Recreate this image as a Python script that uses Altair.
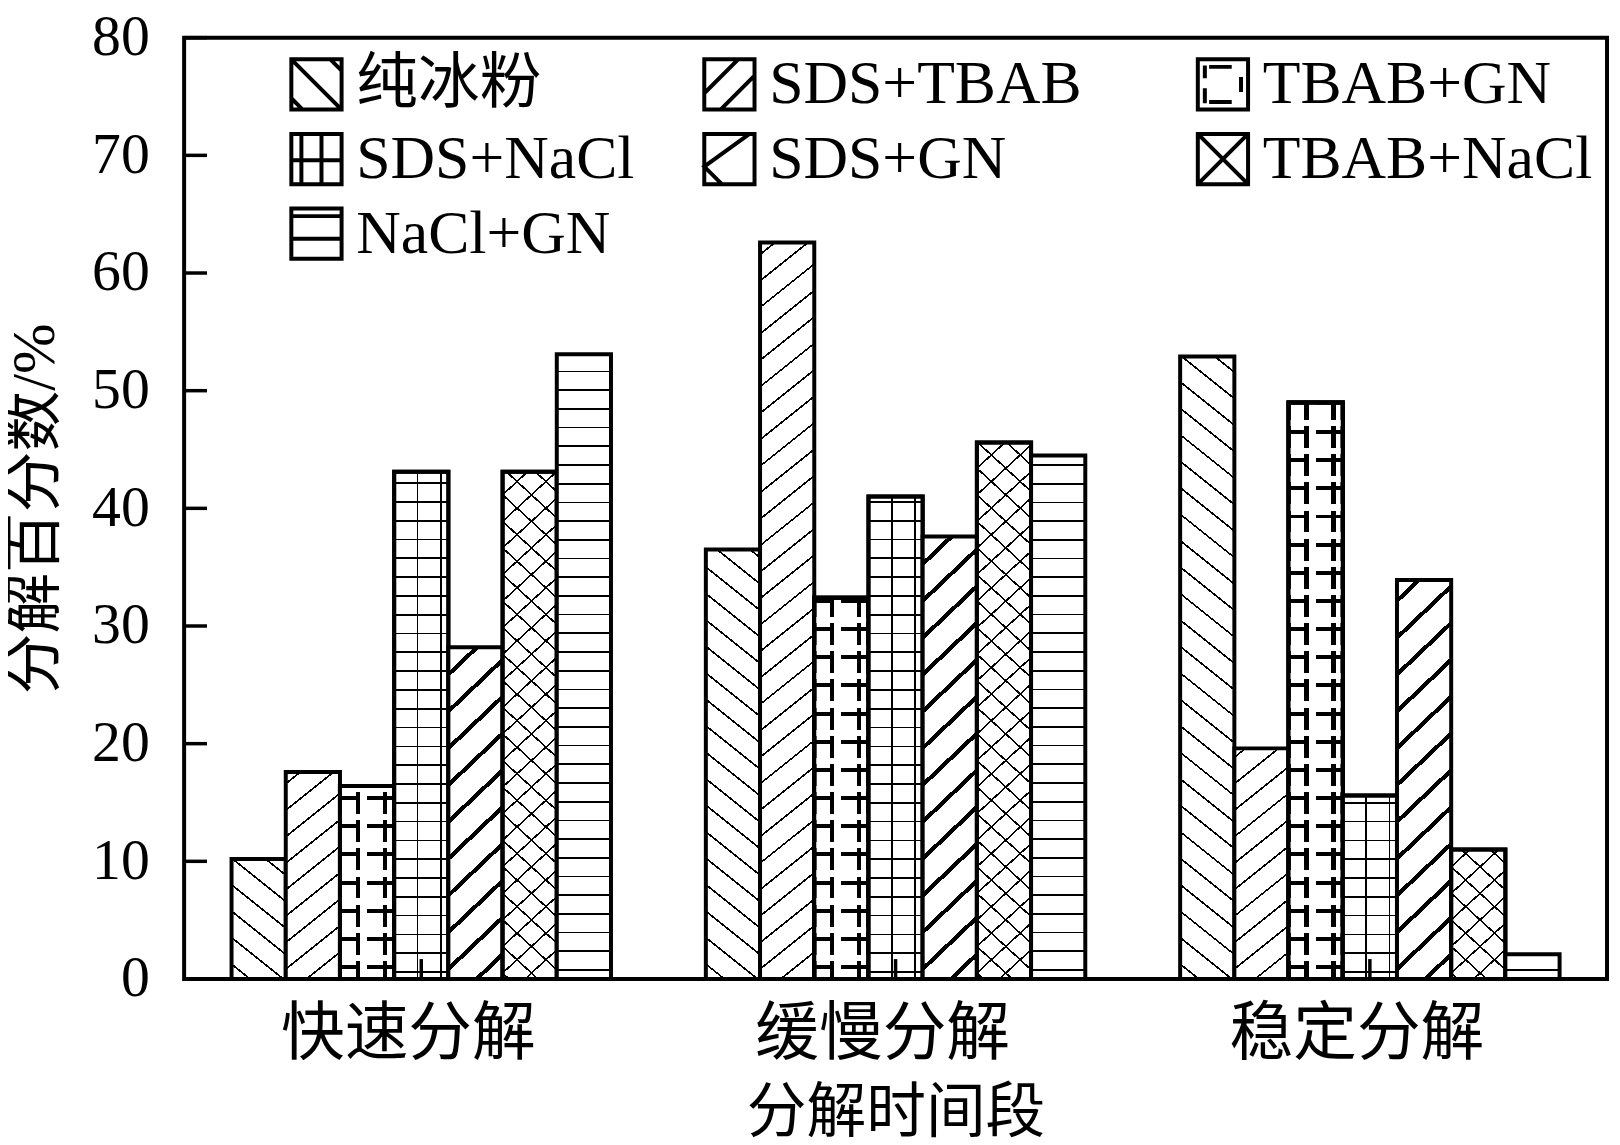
import math
import altair as alt
import pandas as pd

# ---------------- data ----------------
groups = ['快速分解', '缓慢分解', '稳定分解']
series = ['纯冰粉', 'SDS+TBAB', 'TBAB+GN', 'SDS+NaCl', 'SDS+GN', 'TBAB+NaCl', 'NaCl+GN']
values_fast = [10.2, 17.6, 16.4, 43.1, 28.2, 43.1, 53.1]
values_slow = [36.5, 62.6, 32.4, 41.0, 37.6, 45.6, 44.5]
values_stable = [52.9, 19.6, 49.0, 15.6, 33.9, 11.0, 2.1]
y_tick_values = [0, 10, 20, 30, 40, 50, 60, 70, 80]

rows = []
for g, vals in zip(groups, [values_fast, values_slow, values_stable]):
    for s, v in zip(series, vals):
        rows.append({'group': g, 'series': s, 'value': v})
df = pd.DataFrame(rows)

# ---------------- layout ----------------
W, H, YMAX = 1430, 946, 80
P_IN, P_OUT = 0.2, 0.1
STEP = W / (len(groups) - P_IN + 2 * P_OUT)
BAR_W = STEP * (1 - P_IN) / len(series)
FONT = "Liberation Serif, 'Noto Sans CJK SC', serif"
BLACK, WHITE, CLEAR = 'black', 'white', 'rgba(0,0,0,0)'


# ---------------- hatch patterns as striped gradients ----------------
def _r(x):
    return round(x, 6)


def stops_from(L, ivs, fg, bg):
    merged = []
    for a, b in sorted(ivs):
        a, b = max(0.0, a), min(L, b)
        if b <= a:
            continue
        if merged and a <= merged[-1][1]:
            merged[-1][1] = max(merged[-1][1], b)
        else:
            merged.append([a, b])
    st = [{'offset': 0, 'color': bg}]
    for a, b in merged:
        st += [{'offset': _r(a / L), 'color': bg}, {'offset': _r(a / L), 'color': fg},
               {'offset': _r(b / L), 'color': fg}, {'offset': _r(b / L), 'color': bg}]
    st.append({'offset': 1, 'color': bg})
    return st


def z_series(phase, p, lo, hi):
    out, k = [], math.floor((lo - phase) / p)
    while True:
        z = phase + k * p
        if z > hi:
            break
        if z >= lo:
            out.append(z)
        k += 1
    return out


def g_rows(w, h, ivs_top, fg, bg):
    return {'gradient': 'linear', 'x1': 0, 'y1': 0, 'x2': 0, 'y2': 1,
            'stops': stops_from(h, ivs_top, fg, bg)}


def g_cols(w, h, ivs_left, fg, bg):
    return {'gradient': 'linear', 'x1': 0, 'y1': 0, 'x2': 1, 'y2': 0,
            'stops': stops_from(w, ivs_left, fg, bg)}


def g_back(w, h, m, p, phase, lw, fg, bg):
    L = m * w + h
    k = L / (m * m * w * w + h * h)
    t = lw * math.sqrt(1 + m * m)
    zs = z_series(phase, p, -t, L + t)
    return {'gradient': 'linear', 'x1': 0, 'y1': 1, 'x2': _r(k * m * w), 'y2': _r(1 - k * h),
            'stops': stops_from(L, [(z - t / 2, z + t / 2) for z in zs], fg, bg)}


def g_fwd(w, h, m, p, phase, lw, fg, bg):
    L = m * w + h
    k = L / (m * m * w * w + h * h)
    t = lw * math.sqrt(1 + m * m)
    zs = z_series(phase, p, h - L - t, h + t)
    ss = [h - z for z in zs]
    return {'gradient': 'linear', 'x1': 0, 'y1': 0, 'x2': _r(k * m * w), 'y2': _r(k * h),
            'stops': stops_from(L, [(s - t / 2, s + t / 2) for s in ss], fg, bg)}


def hlines(h, zs, lw):
    return [(h - z - lw / 2, h - z + lw / 2) for z in zs]


def pat_pure(w, h):
    return [g_back(w, h, 0.8, 26.6, 15, 1.7, BLACK, WHITE)]


def pat_sds_tbab(w, h):
    return [g_fwd(w, h, 0.8, 26.6, 10, 1.7, BLACK, WHITE)]


def pat_tbab_gn(w, h):
    P = 28.3
    rz = z_series(12, P, 3, h - 3)
    a = g_rows(w, h, hlines(h, rz, 4.0), BLACK, WHITE)
    b = g_cols(w, h, [(0.37 * w, 0.5 * w)], WHITE, CLEAR)
    c = g_cols(w, h, [(0.29 * w, 0.37 * w), (0.79 * w, 0.87 * w)], BLACK, CLEAR)
    bz = z_series(12, P, -P, h + P)
    d = g_rows(w, h, [(h - z + 16, h - z + 22.3) for z in bz], WHITE, CLEAR)
    return [a, b, c, d]


def pat_sds_nacl(w, h):
    a = g_rows(w, h, hlines(h, z_series(7, 18.9, 2, h - 2), 1.7), BLACK, WHITE)
    b = g_cols(w, h, [(c - 0.85, c + 0.85) for c in (23.5, 47.0)], BLACK, CLEAR)
    return [a, b]


def pat_sds_gn(w, h):
    return [g_fwd(w, h, 0.95, 37, 10, 4.2, BLACK, WHITE)]


def pat_tbab_nacl(w, h):
    return [g_back(w, h, 0.92, 26.7, 6, 1.6, BLACK, WHITE),
            g_fwd(w, h, 0.92, 26.7, 6, 1.6, BLACK, CLEAR)]


def pat_nacl_gn(w, h):
    return [g_rows(w, h, hlines(h, z_series(9, 18.8, 2, h - 2), 1.7), BLACK, WHITE)]


PATTERNS = {'纯冰粉': pat_pure, 'SDS+TBAB': pat_sds_tbab, 'TBAB+GN': pat_tbab_gn,
            'SDS+NaCl': pat_sds_nacl, 'SDS+GN': pat_sds_gn, 'TBAB+NaCl': pat_tbab_nacl,
            'NaCl+GN': pat_nacl_gn}

SQ = 'M-1,-1H1V1H-1Z'
LEGEND_PATHS = {
    '纯冰粉': SQ + 'M-1,-1L1,1M-1,0.55L-0.55,1M0.55,-1L1,-0.55',
    'SDS+TBAB': SQ + 'M-1,0.35L0.35,-1M-0.35,1L1,-0.35',
    'TBAB+GN': SQ + 'M-0.55,-0.7H0.35M-0.72,-0.75V-0.25M-0.72,0.15V0.75M-0.55,0.7H0.35M0.72,-0.3V0.3',
    'SDS+NaCl': SQ + 'M-0.6,-1V1M0.2,-1V1M-1,0.05H1',
    'SDS+GN': SQ + 'M0.8,-1L-1,0.3L-0.3,1',
    'TBAB+NaCl': SQ + 'M-1,-1L1,1M1,-1L-1,1',
    'NaCl+GN': SQ + 'M-1,-0.7H1M-1,0.2H1',
}

# ---------------- encodings ----------------
x_axis = alt.Axis(title='分解时间段', labelAngle=0, ticks=False, tickSize=0, domain=False,
                  labelFontSize=64, labelPadding=24, labelOffset=-13, labelLimit=1000,
                  titleFontSize=60, titlePadding=18)
y_axis = alt.Axis(title='分解百分数/%', values=y_tick_values, ticks=False, tickSize=0,
                  domain=False, grid=False, labelFontSize=58, labelPadding=35,
                  labelLimit=1000, titleFontSize=61, titlePadding=25)
x_enc = alt.X('group:N', sort=groups, axis=x_axis,
              scale=alt.Scale(domain=groups, paddingInner=P_IN, paddingOuter=P_OUT))
xo_enc = alt.XOffset('series:N', sort=series,
                     scale=alt.Scale(domain=series, paddingInner=0, paddingOuter=0))
y_enc = alt.Y('value:Q', axis=y_axis, scale=alt.Scale(domain=[0, YMAX], nice=False))

layers = []
for g, vals in zip(groups, [values_fast, values_slow, values_stable]):
    for s, v in zip(series, vals):
        h = v * H / YMAX
        expr = f"datum.group === '{g}' && datum.series === '{s}'"
        for grad in PATTERNS[s](BAR_W, h):
            layers.append(
                alt.Chart().mark_bar(fill=grad, stroke='black', strokeWidth=4)
                .encode(x=x_enc, xOffset=xo_enc, y=y_enc)
                .transform_filter(expr)
            )

# inward ticks
layers.append(
    alt.Chart(pd.DataFrame({'value': y_tick_values})).mark_rule(color='black', strokeWidth=3.5)
    .encode(y=y_enc, x=alt.value(0), x2=alt.value(23))
)
layers.append(
    alt.Chart(pd.DataFrame({'group': groups})).mark_rule(color='black', strokeWidth=3.5)
    .encode(x=x_enc, y=alt.value(H), y2=alt.value(H - 20))
)

# legends (three columns); the carrier points sit outside the clipped plot
legend_cols = [['纯冰粉', 'SDS+NaCl', 'NaCl+GN'], ['SDS+TBAB', 'SDS+GN'], ['TBAB+GN', 'TBAB+NaCl']]
legend_x = [102, 517, 1013]
for names, lx in zip(legend_cols, legend_x):
    layers.append(
        alt.Chart().mark_point(filled=False, color='black', strokeWidth=4, opacity=1,
                               clip=True)
        .encode(
            x=alt.value(-500), y=alt.value(H + 500),
            shape=alt.Shape('series:N',
                            scale=alt.Scale(domain=names, range=[LEGEND_PATHS[n] for n in names]),
                            legend=alt.Legend(orient='none', legendX=lx, legendY=16, title=None,
                                              direction='vertical', symbolOpacity=1,
                                              symbolSize=2550, symbolStrokeWidth=4,
                                              symbolStrokeColor='black'))
        )
        .transform_filter(alt.FieldOneOfPredicate(field='series', oneOf=names))
    )

chart = (
    alt.layer(*layers, data=df)
    .resolve_scale(shape='independent')
    .properties(width=W, height=H, autosize=alt.AutoSizeParams(type='none'),
                padding={'left': 177, 'top': 27, 'right': 5, 'bottom': 164})
    .configure_view(stroke='black', strokeWidth=4)
    .configure_axis(labelFont=FONT, titleFont=FONT, labelColor='black', titleColor='black',
                    titleFontWeight='normal')
    .configure_legend(labelFont=FONT, labelFontSize=62, labelColor='black', labelLimit=1000,
                      labelOffset=9, rowPadding=7, padding=0, symbolOpacity=1,
                      symbolSize=2550, symbolStrokeWidth=4, symbolStrokeColor='black')
)

chart.save('out.html', embed_options={'renderer': 'svg', 'actions': False})
